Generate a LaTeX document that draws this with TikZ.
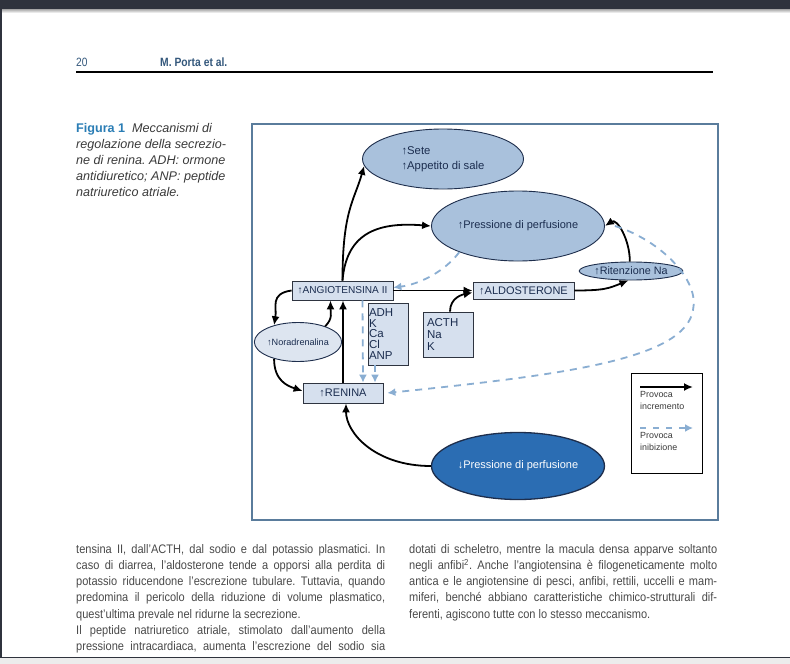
\documentclass[tikz,border=0pt]{standalone}
\usepackage{fontspec}
\usepackage{graphicx}
\setmainfont{Liberation Sans}
\newfontfamily\narrowfont[FakeStretch=0.89]{Liberation Sans}
\usetikzlibrary{shapes.geometric,arrows.meta}
\definecolor{topbar}{HTML}{2F333D}
\definecolor{hdrblue}{HTML}{34587C}
\definecolor{figblue}{HTML}{2A7DB5}
\definecolor{captxt}{HTML}{3A3A3A}
\definecolor{bodytxt}{HTML}{4A4A4A}
\definecolor{framecol}{HTML}{5A7C9C}
\definecolor{ellfill}{HTML}{A9C1DC}
\definecolor{ellline}{HTML}{1E2E4C}
\definecolor{boxfill}{HTML}{D6E0EE}
\definecolor{boxline}{HTML}{2E3440}
\definecolor{norfill}{HTML}{DDE5F0}
\definecolor{darkell}{HTML}{2B6DB3}
\definecolor{navytext}{HTML}{1B2D4F}
\definecolor{dashblue}{HTML}{8AAED2}
\frenchspacing
\begin{document}
\begin{tikzpicture}[x=1pt,y=-1pt,
  ell/.style={ellipse, draw=ellline, line width=0.9pt, fill=ellfill, inner sep=0pt, text=navytext, font=\fontsize{11}{12}\selectfont},
  hbox/.style={rectangle, draw=boxline, line width=0.8pt, fill=boxfill, inner sep=0pt, text=navytext},
  inc/.style={line width=1.8pt, draw=black, -{Latex[length=9pt,width=8pt]}},
  inh/.style={line width=1.8pt, draw=dashblue, dash pattern=on 7pt off 6pt, -{Latex[length=8pt,width=8pt]}},
  body/.style={anchor=base west, inner sep=0pt, text=bodytxt, font=\narrowfont\fontsize{12.4}{14}\selectfont},
  capt/.style={anchor=base west, inner sep=0pt, text=captxt, font=\fontsize{12.6}{14}\selectfont\itshape},
  legtxt/.style={anchor=north west, inner sep=0pt, align=left, text=captxt, font=\fontsize{8.9}{12}\selectfont}
]
\useasboundingbox (0,0) rectangle (790,664);
\fill[white] (0,0) rectangle (790,664);
% page chrome
\fill[topbar] (0,0) rectangle (790,9);
\shade[top color=gray!70, bottom color=white] (0,9) rectangle (790,13);
\fill[topbar] (0,9) rectangle (2,657);
\fill[gray!15] (0,658) rectangle (790,664);
\draw[topbar, line width=1.6pt] (0,657.5) -- (790,657.5);

% header
\node[anchor=base west, inner sep=0pt, text=hdrblue, font=\fontsize{12}{13}\selectfont] (pnum) at (76,66.5) {\scalebox{0.85}[1]{20}};
\node[anchor=base west, inner sep=0pt, text=hdrblue, font=\fontsize{12}{13}\selectfont\bfseries] (auth) at (160,66.5) {\scalebox{0.86}[1]{M. Porta et al.}};
\draw[line width=1.1pt] (76,72) -- (713,72);

% caption
\node[capt] (c1) at (76,132) {{\upshape\bfseries\color{figblue}Figura 1}\ \ Meccanismi di};
\node[capt] (c2) at (76,148) {regolazione della secrezio-};
\node[capt] (c3) at (76,164) {ne di renina. ADH: ormone};
\node[capt] (c4) at (76,180) {antidiuretico; ANP: peptide};
\node[capt] (c5) at (76,196) {natriuretico atriale.};

% figure frame
\draw[framecol, line width=1.3pt] (252,124) rectangle (718,520);

% nodes
\node[ell, minimum width=161pt, minimum height=60pt, align=left, font=\fontsize{11.3}{15}\selectfont] (sete) at (443,159) {↑Sete\\↑Appetito di sale};
\node[ell, minimum width=173pt, minimum height=70pt] (pers) at (518,226) {↑Pressione di perfusione};
\node[ell, minimum width=94pt, minimum height=18pt, font=\fontsize{10.8}{12}\selectfont] (rit) at (631,271) {↑Ritenzione Na};
\node[ell, fill=norfill, minimum width=74pt, minimum height=39pt, font=\fontsize{9.1}{10}\selectfont] (nor) at (298,342) {↑Noradrenalina};
\node[ell, fill=darkell, line width=1.3pt, text=white, minimum width=173pt, minimum height=67pt] (prd) at (518,466) {↓Pressione di perfusione};

\node[hbox, minimum width=101pt, minimum height=19pt, font=\fontsize{10.1}{11}\selectfont] (ang) at (342.5,290.5) {↑ANGIOTENSINA II};
\node[hbox, minimum width=101pt, minimum height=17pt, font=\fontsize{11}{12}\selectfont] (ald) at (523.5,290.5) {↑ALDOSTERONE};
\node[hbox, minimum width=80pt, minimum height=20pt, font=\fontsize{11}{12}\selectfont] (ren) at (343,393) {↑RENINA};
\node[hbox, minimum width=40pt, minimum height=62pt, align=left, text width=38pt, font=\fontsize{11.5}{10.8}\selectfont] (adh) at (388,334) {ADH\\K\\Ca\\Cl\\ANP};
\node[hbox, minimum width=50pt, minimum height=45pt, align=left, text width=42pt, font=\fontsize{11.5}{12}\selectfont] (acth) at (448,334.5) {ACTH\\Na\\K};

% legend
\node[draw=black, line width=0.8pt, fill=white, minimum width=71pt, minimum height=100pt, inner sep=0pt] (leg) at (666.5,423) {};
\coordinate (la1) at (640,387);
\coordinate (lb1) at (693,387);
\coordinate (la2) at (640,428);
\coordinate (lb2) at (693,428);
\draw[inc] (la1) -- (lb1);
\draw[inh, dash pattern=on 6pt off 7pt] (la2) -- (lb2);
\node[legtxt] (lt1) at (640,391) {Provoca\\incremento};
\node[legtxt] (lt2) at (640,432) {Provoca\\inibizione};

% increment arrows
\draw[inc] (ang.north) .. controls +(0,-70) and +(-10,35) .. (sete.185);
\draw[inc] (ang.north) .. controls +(4,-50) and +(-50,-4) .. (pers.west);
\draw[inc] (ang.east) -- (ald.west);
\draw[inc] (ald.east) .. controls +(30,0) and +(-20,8) .. (rit.255);
\draw[inc] (rit.97) .. controls +(0,-22) and +(12,-8) .. (pers.east);
\draw[inc] ([xshift=2pt]acth.north) .. controls +(0,-14) and +(-10,2) .. ([yshift=-2pt]ald.west);
\draw[inc] (ang.west) .. controls +(-22,3) and +(3,-18) .. (nor.145);
\draw[inc] (nor.30) .. controls +(8,-8) and +(0,12) .. ([xshift=-12pt]ang.south);
\draw[inc] (ren.north) -- (ren.north |- ang.south);
\draw[inc] (nor.215) .. controls +(0,22) and +(-15,-5) .. ([yshift=2pt]ren.west);
\draw[inc] (prd.west) .. controls +(-55,0) and +(0,30) .. ([xshift=3pt]ren.south);

% inhibition arrows
\draw[inh] (pers.204) .. controls +(-15,20) and +(25,-3) .. ([yshift=3pt]ang.east);
\draw[inh] ([xshift=20pt]ang.south) -- ([xshift=20pt]ren.north);
\draw[inh] ([xshift=-13pt]adh.south) -- ([xshift=32pt]ren.north);
\coordinate (loop) at (693,310);
\draw[inh] ([xshift=10pt]pers.east) .. controls (660,240) and (700,280) .. (loop) .. controls (685,360) and (560,375) .. ([xshift=4pt]ren.east);

% body text, left column
\node[body] (l1) at (76,553) {\makebox[309pt][s]{tensina II, dall’ACTH, dal sodio e dal potassio plasmatici. In}};
\node[body] (l2) at (76,569.5) {\makebox[309pt][s]{caso di diarrea, l’aldosterone tende a opporsi alla perdita di}};
\node[body] (l3) at (76,585.5) {\makebox[309pt][s]{potassio riducendone l’escrezione tubulare. Tuttavia, quando}};
\node[body] (l4) at (76,601.5) {\makebox[309pt][s]{predomina il pericolo della riduzione di volume plasmatico,}};
\node[body] (l5) at (76,618) {quest’ultima prevale nel ridurne la secrezione.};
\node[body] (l6) at (76,634.5) {\makebox[309pt][s]{Il peptide natriuretico atriale, stimolato dall’aumento della}};
\node[body] (l7) at (76,650.5) {\makebox[309pt][s]{pressione intracardiaca, aumenta l’escrezione del sodio sia}};
% right column
\node[body] (r1) at (409,553) {\makebox[308pt][s]{dotati di scheletro, mentre la macula densa apparve soltanto}};
\node[body] (r2) at (409,569.5) {\makebox[308pt][s]{negli anfibi\textsuperscript{2}. Anche l’angiotensina è filogeneticamente molto}};
\node[body] (r3) at (409,585.5) {\makebox[308pt][s]{antica e le angiotensine di pesci, anfibi, rettili, uccelli e mam-}};
\node[body] (r4) at (409,601.5) {\makebox[308pt][s]{miferi, benché abbiano caratteristiche chimico-strutturali dif-}};
\node[body] (r5) at (409,618) {ferenti, agiscono tutte con lo stesso meccanismo.};
\end{tikzpicture}
\end{document}
